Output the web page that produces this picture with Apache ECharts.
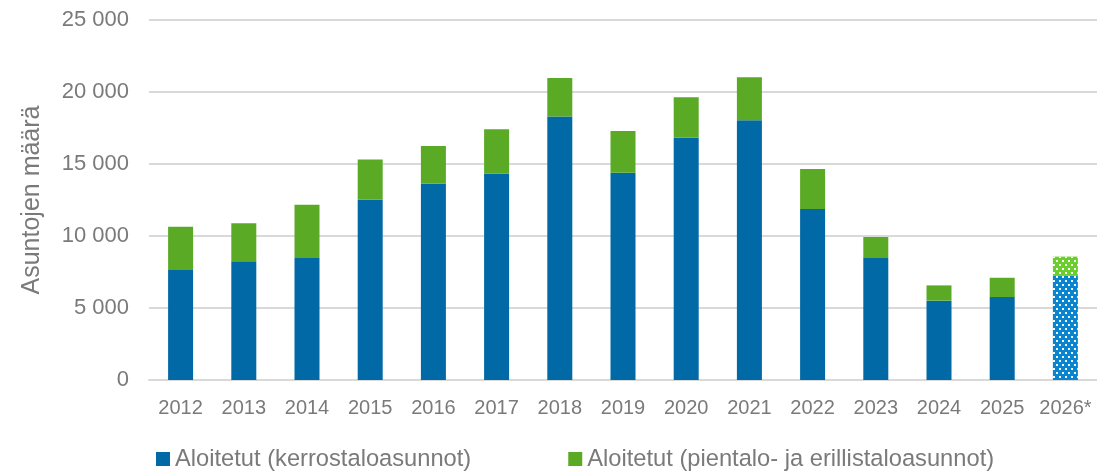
<!DOCTYPE html>
<html>
<head>
<meta charset="utf-8">
<script src="https://cdn.jsdelivr.net/npm/echarts@6/dist/echarts.min.js"></script>
<style>
  html, body { margin: 0; padding: 0; background: #fff; }
  #chart { width: 1097px; height: 472px; }
</style>
</head>
<body>
<div id="chart"></div>
<script>
// Aloitetut asunnot vuosittain, 2026 ennuste
const years = ["2012", "2013", "2014", "2015", "2016", "2017", "2018", "2019",
  "2020", "2021", "2022", "2023", "2024", "2025", "2026*"];
const kerrostalo = [7640, 8240, 8470, 12520, 13630, 14330, 18290, 14400,
  16830, 18030, 11880, 8470, 5510, 5760, 7250];
const pientalo = [3010, 2640, 3700, 2800, 2620, 3080, 2680, 2890,
  2800, 2990, 2770, 1460, 1060, 1340, 1320];
const yTicks = [0, 5000, 10000, 15000, 20000, 25000];

const names = ["Aloitetut (kerrostaloasunnot)", "Aloitetut (pientalo- ja erillistaloasunnot)"];
const decal = {
  symbol: "rect",
  symbolSize: 1,
  color: "rgba(255,255,255,0.95)",
  dashArrayX: [[2, 4], [0, 3, 2, 1]],
  dashArrayY: [2, 2],
  rotation: 0
};

// viimeinen vuosi (ennuste) pisteillä ja vaaleammalla värillä
function withForecast(values, forecastColor) {
  return values.map((v, i) => {
    if (i !== values.length - 1) return v;
    return { value: v, itemStyle: { color: forecastColor, decal: decal } };
  });
}

const chart = echarts.init(document.getElementById("chart"));
const fmt = v => String(v).replace(/\B(?=(\d{3})+(?!\d))/g, " ");

chart.setOption({
  animation: false,
  textStyle: { fontFamily: "Liberation Sans, Arial, sans-serif" },
  grid: { left: 149, right: 0, top: 20, bottom: 92 },
  legend: {
    top: 442,
    left: 151,
    itemGap: 97,
    itemWidth: 14,
    itemHeight: 14,
    icon: "rect",
    textStyle: { fontSize: 23.7, color: "#7a7a7a" },
    data: names
  },
  xAxis: {
    type: "category",
    data: years,
    axisLine: { show: true, lineStyle: { color: "#d9d9d9", width: 2 } },
    axisTick: { show: false },
    axisLabel: { fontSize: 20, color: "#7a7a7a", margin: 18, interval: 0 }
  },
  yAxis: {
    type: "value",
    min: 0,
    max: yTicks[yTicks.length - 1],
    interval: 5000,
    name: "Asuntojen määrä",
    nameLocation: "middle",
    nameGap: 104,
    nameTextStyle: { fontSize: 25, color: "#7a7a7a" },
    axisLine: { show: false },
    axisTick: { show: false },
    axisLabel: { fontSize: 22, color: "#7a7a7a", margin: 20, formatter: fmt },
    splitLine: { lineStyle: { color: "#d9d9d9", width: 2 } }
  },
  series: [
    {
      name: names[0],
      type: "bar",
      stack: "total",
      barWidth: 25,
      itemStyle: { color: "#0069a6" },
      data: withForecast(kerrostalo, "#0a84cf")
    },
    {
      name: names[1],
      type: "bar",
      stack: "total",
      barWidth: 25,
      itemStyle: { color: "#5baa26" },
      data: withForecast(pientalo, "#6ccd2e")
    }
  ]
});

window.addEventListener("resize", () => chart.resize());
</script>
</body>
</html>
